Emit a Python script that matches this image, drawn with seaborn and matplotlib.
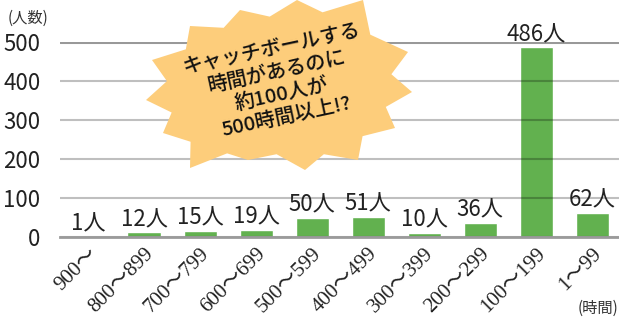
import matplotlib
matplotlib.use("Agg")
import matplotlib.pyplot as plt
import seaborn as sns
import pandas as pd
import numpy as np
from matplotlib.patches import Polygon

categories = ["900～", "800～899", "700～799", "600～699", "500～599",
              "400～499", "300～399", "200～299", "100～199", "1～99"]
values = [1, 12, 15, 19, 50, 51, 10, 36, 486, 62]
yticks = [0, 100, 200, 300, 400, 500]
callout = "キャッチボールする\n時間があるのに\n約100人が\n500時間以上!?"

sns.set_theme(style="white")
plt.rcParams["font.family"] = ["Noto Sans CJK JP", "DejaVu Sans"]

W, H = 619, 324
fig = plt.figure(figsize=(W / 100, H / 100), dpi=100)
ax = fig.add_axes([60 / W, 1 - 237 / H, 1 - 60 / W, (237 - 42) / H])

df = pd.DataFrame({"cat": categories, "val": values})
sns.barplot(data=df, x="cat", y="val", color="#62b14f", saturation=1,
            width=0.59, ax=ax, zorder=1)
ax.set_xlim(-0.5, 9.48)
ax.set_ylim(0, 500)
ax.set_yticks(yticks)
ax.set_xlabel("")
ax.set_ylabel("")

for s in ["top", "right", "left"]:
    ax.spines[s].set_visible(False)
ax.spines["bottom"].set_color("#9a9a9a")
ax.spines["bottom"].set_linewidth(2)
ax.spines["bottom"].set_zorder(4)

ax.set_axisbelow(False)
ax.yaxis.grid(True, color="black", alpha=0.25, linewidth=1.5)
ax.axhline(500, color="#999999", lw=2.2, zorder=4)

ax.tick_params(axis="both", length=0)
ax.tick_params(axis="y", pad=14, labelsize=16, labelcolor="#222222")

ax.set_xticks(range(len(categories)))
ax.set_xticklabels(categories, rotation=45, ha="right", rotation_mode="anchor",
                   fontsize=15, color="#222222",
                   family=["Liberation Serif", "Noto Sans CJK JP"])
ax.tick_params(axis="x", pad=5)

ax.bar_label(ax.containers[0], labels=[f"{v}人" for v in values], padding=1,
             fontsize=16, color="#222222", zorder=5)

fig.text(8 / W, 1 - 18 / H, "(人数)", fontsize=11, color="#333333",
         ha="left", va="center")
fig.text(618 / W, 1 - 308 / H, "(時間)", fontsize=11, color="#333333",
         ha="right", va="center")

# starburst callout
cx, cy = 277, 88
outer = [(297, 0), (363, 0), (408, 52), (412, 92), (395, 128), (358, 160),
         (305, 170), (248, 160), (190, 168), (163, 133), (146, 100),
         (152, 60), (190, 26), (240, 10)]
pts = []
n = len(outer)
for i in range(n):
    x1, y1 = outer[i]
    x2, y2 = outer[(i + 1) % n]
    mx, my = (x1 + x2) / 2, (y1 + y2) / 2
    ix, iy = cx + 0.86 * (mx - cx), cy + 0.86 * (my - cy)
    pts.append((x1, y1))
    pts.append((ix, iy))
pts = [(x / W, 1 - y / H) for x, y in pts]
star = Polygon(pts, closed=True, transform=fig.transFigure,
               facecolor="#fdcd7b", edgecolor="none", zorder=10)
fig.add_artist(star)
fig.text(279 / W, 1 - 83 / H, callout, fontsize=14.5, color="#111111",
         fontweight="medium",
         ha="center", va="center", multialignment="center", rotation=12,
         linespacing=1.25, zorder=11)

fig.savefig("out.png", dpi=100)
